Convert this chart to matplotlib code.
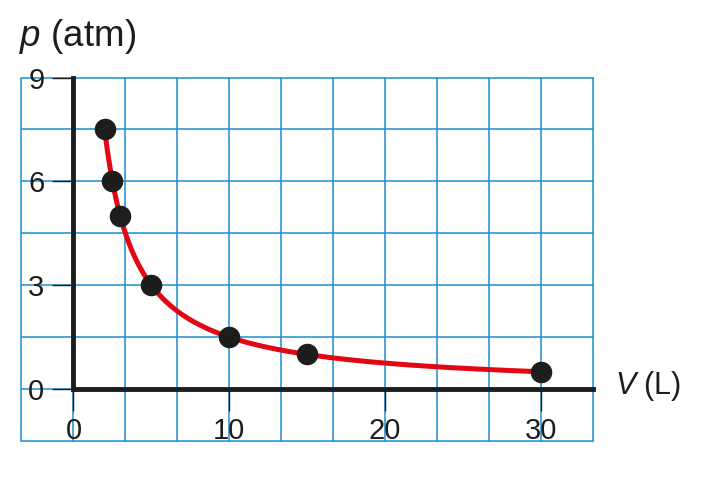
import numpy as np
import matplotlib.pyplot as plt

plt.rcParams['font.family'] = ['Liberation Sans', 'DejaVu Sans']
plt.rcParams['mathtext.fontset'] = 'custom'
plt.rcParams['mathtext.it'] = 'Liberation Sans:italic'
plt.rcParams['mathtext.rm'] = 'Liberation Sans'

# measured points (V in L, p in atm)
volume = [2, 2.5, 3, 5, 10, 15, 30]
pressure = [7.5, 6, 5, 3, 1.5, 1, 0.5]
x_ticks = [0, 10, 20, 30]
y_ticks = [0, 3, 6, 9]

# smooth curve p*V = const through the points
pv = volume[0] * pressure[0]
v_curve = np.linspace(volume[0], volume[-1], 300)
p_curve = pv / v_curve

grid_col = '#1a8fd2'
ink = '#1d1d1b'

fig = plt.figure(figsize=(7.26, 5.01), dpi=100)
ax = fig.add_axes([21.5 / 726, 1 - 441 / 501, 571.5 / 726, 363.5 / 501])

x0, x1 = -10 / 3, 100 / 3
y0, y1 = -1.5, 9
ax.set_xlim(x0, x1)
ax.set_ylim(y0, y1)

# blue grid, including the outer frame
for gx in np.arange(-1, 11) * 10 / 3:
    ax.axvline(gx, color=grid_col, lw=1.1, zorder=1, clip_on=False)
for gy in np.arange(-1, 7) * 1.5:
    ax.axhline(gy, color=grid_col, lw=1.1, zorder=1, clip_on=False)

ax.plot(v_curve, p_curve, color='#e30613', lw=3.6, zorder=3,
        solid_capstyle='round')
ax.plot(volume, pressure, 'o', color=ink, ms=14.5, zorder=4)

for side in ['top', 'right']:
    ax.spines[side].set_visible(False)
ax.spines['left'].set_position(('data', 0))
ax.spines['bottom'].set_position(('data', 0))
ax.spines['left'].set_bounds(0, y1)
ax.spines['bottom'].set_bounds(0, x1)
for side in ['left', 'bottom']:
    ax.spines[side].set_linewidth(3.5)
    ax.spines[side].set_color(ink)
    ax.spines[side].set_capstyle('projecting')
    ax.spines[side].set_zorder(2.5)

ax.set_xticks(x_ticks)
ax.set_yticks(y_ticks)
ax.tick_params(axis='x', direction='out', length=16, width=1.0,
               color=ink, labelsize=21, labelcolor=ink, pad=4)
ax.tick_params(axis='y', direction='out', length=15, width=1.0,
               color=ink, labelsize=21, labelcolor=ink, pad=6)
ax.patch.set_alpha(0)

fig.text(19 / 726, 1 - 36 / 501, '$p$ (atm)', fontsize=26.5, color=ink,
         ha='left', va='center')
fig.text(615 / 726, 1 - 386 / 501, '$V$ (L)', fontsize=22, color=ink,
         ha='left', va='center')

plt.savefig('out.png', dpi=100)
